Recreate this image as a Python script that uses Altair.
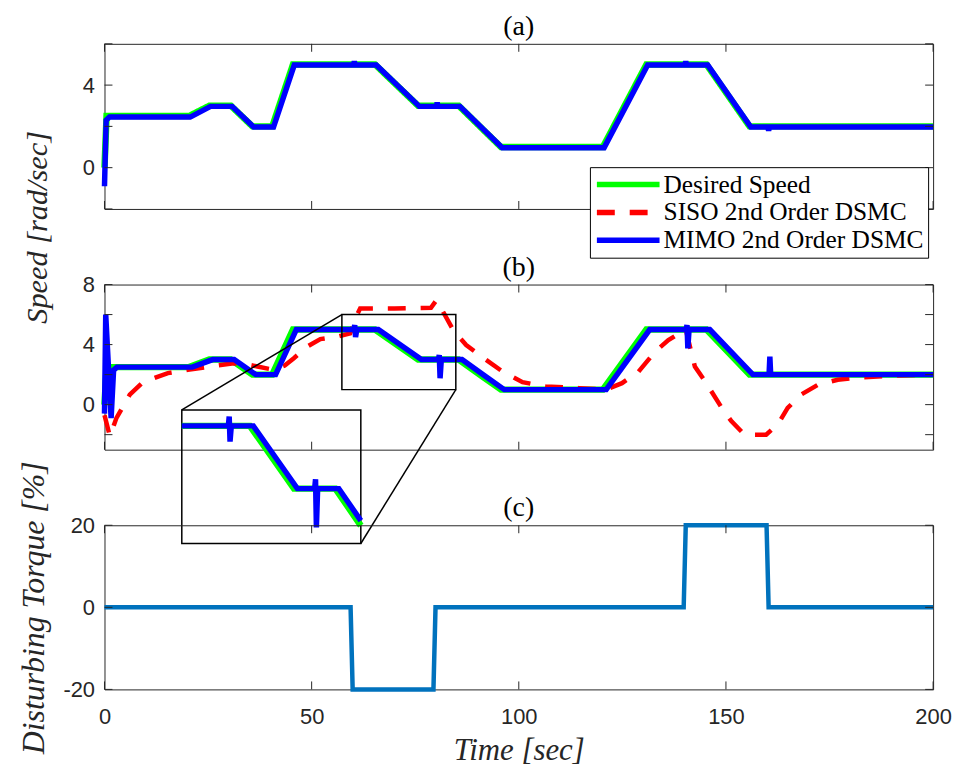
import altair as alt
import pandas as pd

# ---------------- values ----------------
# desired speed profile (panels a and b)
des_t = [0, 0.5, 20.4, 25.3, 30.5, 35.7, 40.5, 45.5, 49.2, 65.3, 75.7, 85.5, 91.5, 95.7,
         120.3, 130.8, 145.3, 155.7, 200]
des_v = [0, 2.5, 2.5, 3.0, 3.0, 2.0, 2.0, 5.0, 5.0, 5.0, 3.0, 3.0, 1.82, 1.0,
         1.0, 5.0, 5.0, 2.0, 2.0]

# MIMO 2nd order DSMC, panel (a)
mimo_a_t = [0, 0.4, 1.2, 20.7, 25.6, 30.8, 36.0, 40.8, 45.8, 60.1, 60.3, 60.5, 65.6, 76.0,
            80.1, 80.3, 80.5, 85.8, 96.0, 120.6, 131.1, 140.1, 140.3, 140.5, 145.6, 156.0,
            160.1, 160.3, 160.5, 200]
mimo_a_v = [-0.9, 2.3, 2.45, 2.45, 2.97, 2.97, 1.97, 1.97, 4.97, 4.97, 5.15, 4.97, 4.97, 2.97,
            2.97, 3.15, 2.97, 2.97, 0.97, 0.97, 4.97, 4.97, 5.15, 4.97, 4.97, 1.97,
            1.97, 1.8, 1.97, 1.97]

# MIMO 2nd order DSMC, panel (b)
mimo_b_t = [0, 0.3, 1.6, 2.2, 3.0, 21.2, 26.1, 31.3, 36.5, 41.3, 46.3, 49.2, 60.2, 60.4, 60.6,
            60.9, 66.1, 76.5, 80.6, 80.8, 81.0, 81.3, 86.3, 91.5, 96.5, 121.1, 131.6, 140.4,
            140.6, 140.8, 141.1, 146.1, 156.5, 160.4, 160.6, 160.8, 200]
mimo_b_v = [-0.6, 6.0, -0.9, 2.3, 2.5, 2.5, 3.0, 3.0, 2.0, 2.0, 5.0, 5.0, 5.0, 5.3, 4.5,
            5.0, 5.0, 3.0, 3.0, 3.3, 1.76, 3.0, 3.0, 1.98, 1.0, 1.0, 5.0, 5.0,
            5.3, 3.75, 5.0, 5.0, 2.0, 2.0, 3.2, 2.0, 2.0]

# SISO 2nd order DSMC, panel (b)
siso_b_t = [0, 1.3, 2.9, 6.1, 9.3, 15.3, 20.1, 26.5, 31.2, 34.0, 36.9, 40.9, 43.5, 45.7, 48.9,
            52.1, 56.0, 59.3, 60.5, 61.7, 70.0, 78.8, 80.1, 81.5, 84.3, 87.3, 92.1, 96.1,
            100.9, 106.5, 114.5, 121.0, 124.9, 128.9, 132.9, 136.1, 139.3, 140.3, 142.5,
            145.0, 149.0, 151.3, 154.5, 159.7, 162.5, 164.9, 168.1, 172.2, 177.0, 182.5,
            190.6, 200]
siso_b_v = [-0.7, -2.1, -0.88, 0.66, 1.5, 2.1, 2.32, 2.58, 2.75, 2.7, 2.54, 2.32, 2.6, 3.09, 3.86,
            4.37, 4.52, 4.74, 5.74, 6.4, 6.4, 6.45, 6.95, 6.3, 4.9, 3.97, 2.98, 2.2,
            1.5, 1.21, 1.1, 1.0, 1.43, 2.2, 3.53, 4.3, 4.85, 5.0, 2.54,
            1.54, -0.22, -1.1, -2.0, -2.0, -1.32, -0.22, 0.66, 1.32, 1.66, 1.81,
            1.94, 2.0]

# disturbing torque, panel (c)
dist_t = [0, 59.4, 59.9, 79.4, 79.9, 139.8, 140.3, 159.8, 160.3, 200]
dist_v = [0, 0, -20, -20, 0, 0, 20, 20, 0, 0]

x_ticks = [0, 50, 100, 150, 200]
ya_ticks = [-2, 0, 2, 4, 6]
ya_labels = [0, 4]
yb_ticks = [-2, 0, 2, 4, 6, 8]
yb_labels = [0, 4, 8]
yc_ticks = [-20, 0, 20]
yc_labels = [-20, 0, 20]

panel_titles = ["(a)", "(b)", "(c)"]
series_names = ["Desired Speed", "SISO 2nd Order DSMC", "MIMO 2nd Order DSMC"]
series_colors = ["#00ff00", "#ff0000", "#0000ff"]

# zoom window in panel (b) and position of its magnified copy (panel-b data units)
zoom_t = [57.3, 84.8]
zoom_v = [1.0, 6.0]
inset_t = [18.66, 61.87]
inset_v = [-9.25, -0.35]
inset_dom_t = [49.2, 91.5]
inset_dom_v = [1.25, 5.51]

# ---------------- styling ----------------
W = 833
HA, HB, HC = 166, 166, 165
AX = "#262626"
SERIF = "Liberation Serif"
SANS = "Liberation Sans"
TICK = 8
DASH = [18, 15]

xa_dom = [0, 200]
ya_dom = [-2, 6]
yb_dom = [-3, 8]
yc_dom = [-20, 20]

df_des = pd.DataFrame({"t": des_t, "v": des_v, "series": series_names[0]})
df_mimo_a = pd.DataFrame({"t": mimo_a_t, "v": mimo_a_v})
df_mimo_b = pd.DataFrame({"t": mimo_b_t, "v": mimo_b_v})
df_siso_b = pd.DataFrame({"t": siso_b_t, "v": siso_b_v})
df_dist = pd.DataFrame({"t": dist_t, "v": dist_v})

LBL = "'' + datum.value"


def frame(yticks, H, xs, ys, xaxis, yaxis):
    xt = pd.DataFrame({"t": x_ticks})
    yt = pd.DataFrame({"v": yticks})
    X = alt.X("t:Q", scale=xs, axis=xaxis)
    Y = alt.Y("v:Q", scale=ys, axis=yaxis)
    rule = dict(color=AX, strokeWidth=1)
    return [
        alt.Chart(xt).mark_rule(**rule).encode(x=X, y=alt.value(0), y2=alt.value(TICK)),
        alt.Chart(xt).mark_rule(**rule).encode(x=X, y=alt.value(H), y2=alt.value(H - TICK)),
        alt.Chart(yt).mark_rule(**rule).encode(y=Y, x=alt.value(0), x2=alt.value(TICK)),
        alt.Chart(yt).mark_rule(**rule).encode(y=Y, x=alt.value(W), x2=alt.value(W - TICK)),
    ]


def title_mark(txt):
    return alt.Chart(pd.DataFrame({"label": [txt]})).mark_text(
        font=SERIF, fontSize=28, color="black", baseline="middle", align="center"
    ).encode(text="label:N", x=alt.value(W / 2), y=alt.value(-17))


def ytitle(txt, size, tx, ty=None):
    kw = dict(title=txt, titleFont=SERIF, titleFontStyle="italic", titleFontWeight="normal",
              titleFontSize=size, titleColor=AX, titleX=tx)
    if ty is not None:
        kw["titleY"] = ty
    return kw


# ---------------- panel (a) ----------------
xs_a = alt.Scale(domain=xa_dom, nice=False)
ys_a = alt.Scale(domain=ya_dom, nice=False)
yax_a = alt.Axis(values=ya_labels, labelExpr=LBL, title=None)

legend = alt.Legend(
    orient="none", legendX=488, legendY=124, title=None, symbolType="M-3,0L3,0",
    symbolSize=441, symbolStrokeWidth=5.5, symbolOffset=21, labelFont=SERIF, labelFontSize=25.5,
    labelColor="black", strokeColor="black", fillColor="white", padding=4,
    rowPadding=1, labelOffset=22, cornerRadius=0, labelLimit=400,
)

green_a = alt.Chart(df_des).mark_line(strokeWidth=6.5).encode(
    x=alt.X("t:Q", scale=xs_a, axis=None),
    y=alt.Y("v:Q", scale=ys_a, axis=yax_a),
    color=alt.Color("series:N", scale=alt.Scale(domain=series_names, range=series_colors),
                    legend=legend),
    strokeDash=alt.StrokeDash("series:N",
                              scale=alt.Scale(domain=series_names,
                                              range=[[1, 0], DASH, [1, 0]]),
                              legend=legend),
)
blue_a = alt.Chart(df_mimo_a).mark_line(color=series_colors[2], strokeWidth=5.5).encode(
    x=alt.X("t:Q", scale=xs_a, axis=None),
    y=alt.Y("v:Q", scale=ys_a, axis=yax_a),
)
panel_a = alt.layer(green_a, blue_a, *frame(ya_ticks, HA, xs_a, ys_a, None, yax_a),
                    title_mark(panel_titles[0])).properties(width=W, height=HA)

# ---------------- panel (b) ----------------
xs_b = alt.Scale(domain=xa_dom, nice=False)
ys_b = alt.Scale(domain=yb_dom, nice=False)
yax_b = alt.Axis(values=yb_labels, labelExpr=LBL, **ytitle("Speed [rad/sec]", 30.5, -52, -58))
Xb = alt.X("t:Q", scale=xs_b, axis=None)
Yb = alt.Y("v:Q", scale=ys_b, axis=yax_b)

green_b = alt.Chart(df_des).mark_line(color=series_colors[0], strokeWidth=6.5).encode(x=Xb, y=Yb)
red_b = alt.Chart(df_siso_b).mark_line(color=series_colors[1], strokeWidth=4.5,
                                        strokeDash=DASH).encode(x=Xb, y=Yb)
blue_b = alt.Chart(df_mimo_b).mark_line(color=series_colors[2], strokeWidth=5.5).encode(x=Xb, y=Yb)

box_df = pd.DataFrame({"t": [zoom_t[0], inset_t[0]], "t2": [zoom_t[1], inset_t[1]],
                       "v": [zoom_v[0], inset_v[0]], "v2": [zoom_v[1], inset_v[1]]})
boxes = alt.Chart(box_df).mark_rect(fillOpacity=0, stroke="black", strokeWidth=1.5).encode(
    x=Xb, x2="t2:Q", y=Yb, y2="v2:Q")
conn_df = pd.DataFrame({"t": [zoom_t[0], zoom_t[1]], "t2": [inset_t[0], inset_t[1]],
                        "v": [zoom_v[1], zoom_v[0]], "v2": [inset_v[1], inset_v[0]]})
conns = alt.Chart(conn_df).mark_rule(color="black", strokeWidth=1.5).encode(
    x=Xb, x2="t2:Q", y=Yb, y2="v2:Q")

main_b = alt.layer(green_b, red_b, blue_b, boxes, conns,
                   *frame(yb_ticks, HB, xs_b, ys_b, None, yax_b),
                   title_mark(panel_titles[1]))

ix_range = [inset_t[0] / (xa_dom[1] - xa_dom[0]) * W, inset_t[1] / (xa_dom[1] - xa_dom[0]) * W]
iy_range = [(yb_dom[1] - inset_v[0]) / (yb_dom[1] - yb_dom[0]) * HB,
            (yb_dom[1] - inset_v[1]) / (yb_dom[1] - yb_dom[0]) * HB]
Xi = alt.X("t:Q", scale=alt.Scale(domain=inset_dom_t, range=ix_range, nice=False), axis=None)
Yi = alt.Y("v:Q", scale=alt.Scale(domain=inset_dom_v, range=iy_range, nice=False), axis=None)
rng = alt.FieldRangePredicate(field="t", range=inset_dom_t)
green_i = alt.Chart(df_des).mark_line(color=series_colors[0], strokeWidth=6.5).encode(
    x=Xi, y=Yi).transform_filter(rng)
blue_i = alt.Chart(df_mimo_b).mark_line(color=series_colors[2], strokeWidth=5.5).encode(
    x=Xi, y=Yi).transform_filter(rng)
inset = alt.layer(green_i, blue_i)

panel_b = alt.layer(main_b, inset).resolve_scale(x="independent", y="independent").properties(
    width=W, height=HB)

# ---------------- panel (c) ----------------
xs_c = alt.Scale(domain=xa_dom, nice=False)
ys_c = alt.Scale(domain=yc_dom, nice=False)
xax_c = alt.Axis(values=x_ticks, labelExpr=LBL, labelFlush=False, title="Time [sec]",
                 titleFont=SERIF, titleFontStyle="italic", titleFontWeight="normal",
                 titleFontSize=31, titleColor=AX, titlePadding=8)
yax_c = alt.Axis(values=yc_labels, labelExpr=LBL, **ytitle("Disturbing Torque [%]", 32, -54))
dist_line = alt.Chart(df_dist).mark_line(color="#0072bd", strokeWidth=4.5).encode(
    x=alt.X("t:Q", scale=xs_c, axis=xax_c), y=alt.Y("v:Q", scale=ys_c, axis=yax_c))
panel_c = alt.layer(dist_line, *frame(yc_ticks, HC, xs_c, ys_c, xax_c, yax_c),
                    title_mark(panel_titles[2])).properties(width=W, height=HC)

chart = alt.vconcat(panel_a, panel_b, panel_c, spacing=76, bounds="flush").properties(
    padding={"left": 9, "top": 2, "right": 0, "bottom": 0}
).configure_view(stroke=AX, strokeWidth=1).configure_axis(
    labelFont=SANS, labelFontSize=22, labelColor=AX, domain=False, ticks=False,
    tickSize=0, grid=False
).configure_axisX(labelPadding=17).configure_axisY(labelPadding=10)

chart.save("out.html", embed_options={"renderer": "svg", "actions": False})
